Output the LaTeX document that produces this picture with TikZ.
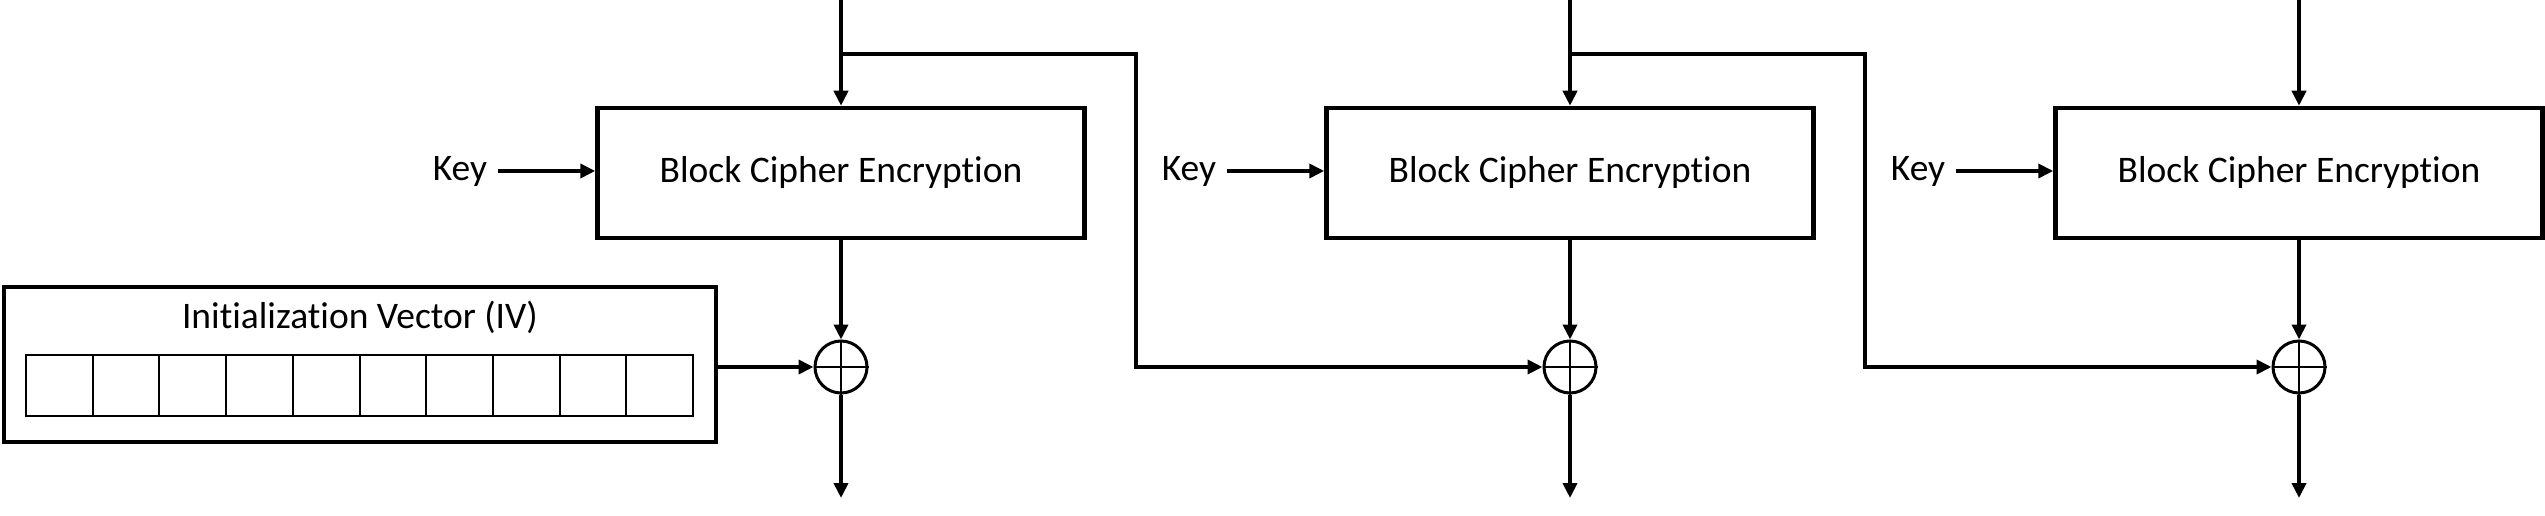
\documentclass[tikz,border=0pt]{standalone}
\usepackage{fontspec}
\setmainfont{Carlito}[Ligatures=NoCommon]
\usetikzlibrary{arrows.meta}
\begin{document}
\begin{tikzpicture}[x=1pt,y=-1pt,
  line/.style={line width=4pt},
  arr/.style={line, -{Triangle[length=15pt,width=14pt]}},
  encbox/.style={draw, line width=4.5pt, minimum width=487pt, minimum height=130pt, inner sep=0pt, font=\fontsize{37.5}{44}\selectfont},
  lbl/.style={font=\fontsize{37.5}{44}\selectfont, inner xsep=11pt, inner ysep=0pt},
  xorn/.style={draw, circle, line width=3pt, minimum size=52pt, inner sep=0pt},
  cellbox/.style={draw, line width=2pt, minimum width=66.7pt, minimum height=61pt, inner sep=0pt},
  ivframe/.style={draw, line width=4.5pt, minimum width=712pt, minimum height=155pt, inner sep=0pt}]
\useasboundingbox (0,0) rectangle (2545,516);
% IV
\node[ivframe] (iv) at (360,364.5) {};
\node[lbl, anchor=base] (ivt) at (360,328) {Initialization Vector (IV)};
\foreach \i in {0,...,9} {
  \node[cellbox] (c\i) at ({59.35+66.7*\i},385.5) {};
}
% columns
\foreach \n/\x in {1/841,2/1570,3/2299} {
  \node[encbox] (enc\n) at (\x,173) {Block Cipher Encryption};
  \node[lbl, anchor=base] (key\n) at (\x-381,180) {Key};
  \node[xorn] (x\n) at (\x,367) {};
  \draw[line width=2.5pt] (x\n.north) -- (x\n.south) (x\n.west) -- (x\n.east);
  \coordinate (top\n) at (\x,0);
  \coordinate (out\n) at (\x,498);
  \coordinate (br\n) at (\x,54);
  \coordinate (cr\n) at (\x+295,54);
  \draw[arr] (top\n) -- (enc\n.north);
  \draw[arr] (key\n.east) -- (key\n.east -| enc\n.west);
  \draw[arr] (enc\n.south) -- (x\n.north);
  \draw[arr] (x\n.south) -- (out\n);
}
\draw[arr] (iv.east |- x1.west) -- (x1.west);
\draw[arr] (br1) -- (cr1) |- (x2.west);
\draw[arr] (br2) -- (cr2) |- (x3.west);
\end{tikzpicture}
\end{document}
